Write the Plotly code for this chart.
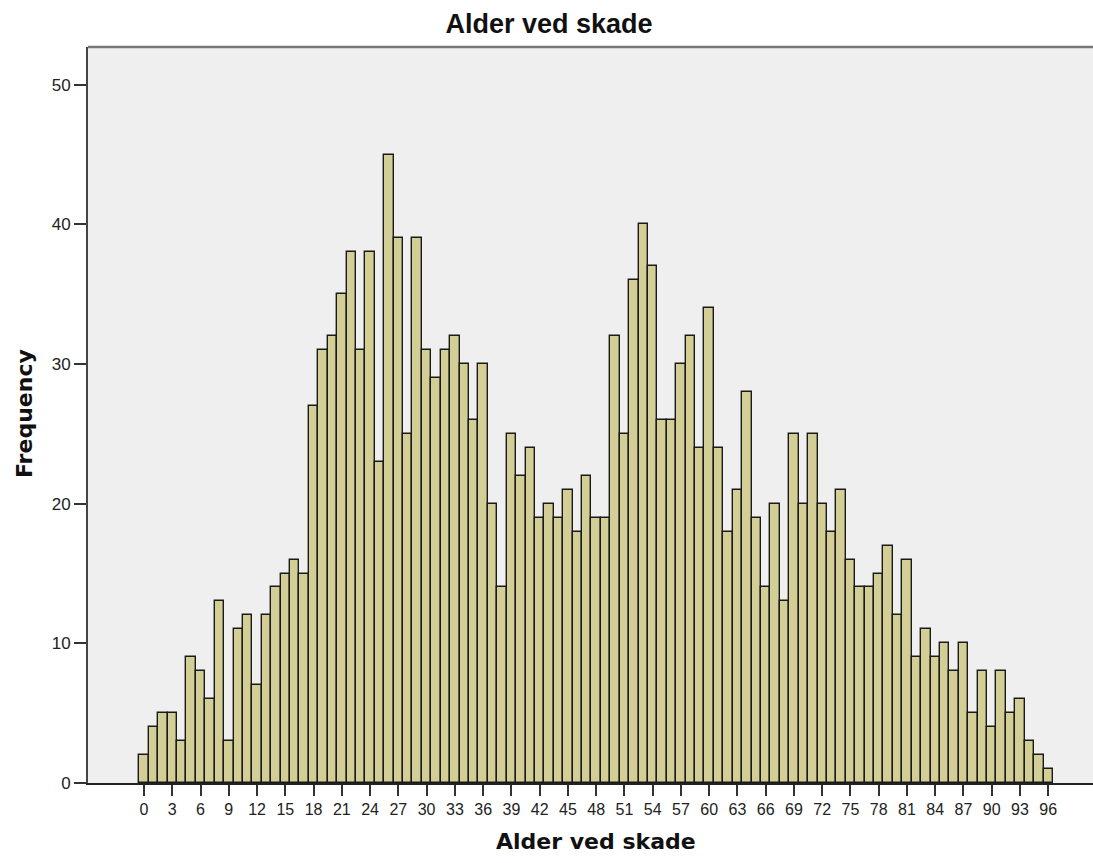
import plotly.graph_objects as go

ages = list(range(0, 97))
frequency = [
    2, 4, 5, 5, 3, 9, 8, 6, 13, 3,
    11, 12, 7, 12, 14, 15, 16, 15, 27, 31,
    32, 35, 38, 31, 38, 23, 45, 39, 25, 39,
    31, 29, 31, 32, 30, 26, 30, 20, 14, 25,
    22, 24, 19, 20, 19, 21, 18, 22, 19, 19,
    32, 25, 36, 40, 37, 26, 26, 30, 32, 24,
    34, 24, 18, 21, 28, 19, 14, 20, 13, 25,
    20, 25, 20, 18, 21, 16, 14, 14, 15, 17,
    12, 16, 9, 11, 9, 10, 8, 10, 5, 8,
    4, 8, 5, 6, 3, 2, 1,
]
x_ticks = list(range(0, 97, 3))
y_ticks = [0, 10, 20, 30, 40, 50]

title_text = "Alder ved skade"
x_title = "Alder ved skade"
y_title = "Frequency"

W, H = 1093, 863
ML, MR, MT, MB = 88, 0, 47, 80
plot_w = W - ML - MR
plot_h = H - MT - MB

fig = go.Figure(
    go.Bar(
        x=ages,
        y=frequency,
        marker=dict(color="#D3CE96", line=dict(color="#1a1a1a", width=1.4)),
        hoverinfo="x+y",
    )
)

title_font = "Liberation Sans, Arial, sans-serif"
axis_title_font = "DejaVu Sans, Verdana, sans-serif"

fig.update_layout(
    width=W,
    height=H,
    margin=dict(l=ML, r=MR, t=MT, b=MB),
    paper_bgcolor="white",
    plot_bgcolor="#EFEFEF",
    bargap=0.0,
    showlegend=False,
    font=dict(family=title_font, size=16, color="#222222"),
    title=dict(
        text="<b>" + title_text + "</b>",
        x=549 / W,
        xref="container",
        xanchor="center",
        y=1 - 24 / H,
        yref="container",
        yanchor="middle",
        font=dict(family=title_font, size=27, color="#111111"),
    ),
    shapes=[
        dict(type="line", xref="paper", yref="paper", x0=0, x1=1, y0=1, y1=1,
             line=dict(color="#777777", width=2.5)),
    ],
    annotations=[
        dict(text="<b>" + x_title + "</b>", xref="paper", yref="paper",
             x=(596 - ML) / plot_w, y=(MT + plot_h - 842) / plot_h,
             xanchor="center", yanchor="middle", showarrow=False,
             font=dict(family=axis_title_font, size=22, color="#111111")),
        dict(text="<b>" + y_title + "</b>", xref="paper", yref="paper",
             x=(24 - ML) / plot_w, y=(MT + plot_h - 414) / plot_h,
             xanchor="center", yanchor="middle", showarrow=False, textangle=-90,
             font=dict(family=axis_title_font, size=22, color="#111111")),
    ],
)

fig.update_xaxes(
    range=[-5.95, 100.75],
    tickmode="array",
    tickvals=x_ticks,
    ticktext=[str(v) for v in x_ticks],
    ticks="outside",
    ticklen=11,
    tickwidth=1.5,
    tickcolor="#333333",
    showline=True,
    linecolor="#222222",
    linewidth=1.5,
    showgrid=False,
    zeroline=False,
    tickfont=dict(size=16, color="#222222"),
)

fig.update_yaxes(
    range=[0, 52.7],
    tickmode="array",
    tickvals=y_ticks,
    ticks="outside",
    ticklen=12,
    tickwidth=1.5,
    tickcolor="#333333",
    showline=True,
    linecolor="#444444",
    linewidth=2,
    showgrid=False,
    zeroline=False,
    tickfont=dict(size=17, color="#222222"),
)

fig.write_html(
    "out.html",
    config={"displayModeBar": False},
    post_script="document.body.style.margin='0';document.body.style.overflow='hidden';",
)
